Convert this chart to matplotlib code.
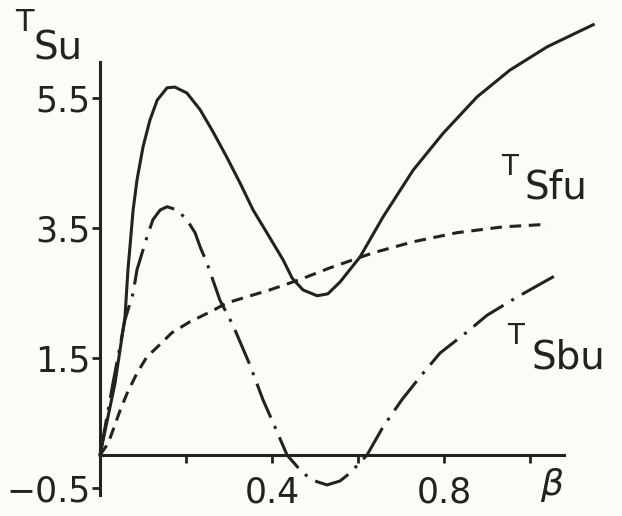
import numpy as np
import matplotlib.pyplot as plt

ink = "#24221e"
paper = "#fcfcf7"

# T_Su (solid)
beta_su = [0, 0.035, 0.058, 0.065, 0.077, 0.086, 0.1, 0.116, 0.133, 0.156, 0.174,
           0.202, 0.233, 0.263, 0.295, 0.326, 0.356, 0.388, 0.426, 0.447, 0.472,
           0.505, 0.53, 0.558, 0.605, 0.658, 0.728, 0.798, 0.877, 0.953, 1.04, 1.147]
t_su = [0, 1.11, 2.12, 2.85, 3.77, 4.23, 4.74, 5.15, 5.46, 5.65, 5.66,
        5.57, 5.31, 4.97, 4.58, 4.18, 3.77, 3.42, 3.0, 2.72, 2.54,
        2.45, 2.48, 2.66, 3.05, 3.66, 4.38, 4.95, 5.51, 5.92, 6.28, 6.62]

# T_Sbu (dash-dot)
beta_sbu = [0, 0.03, 0.058, 0.077, 0.086, 0.109, 0.123, 0.14, 0.156, 0.179, 0.202,
            0.221, 0.233, 0.249, 0.279, 0.309, 0.349, 0.379, 0.407, 0.435, 0.472,
            0.5, 0.528, 0.558, 0.581, 0.621, 0.658, 0.702, 0.744, 0.791, 0.853,
            0.9, 0.97, 1.04, 1.07]
t_sbu = [0, 1.1, 2.08, 2.49, 2.85, 3.35, 3.62, 3.77, 3.82, 3.77, 3.62,
         3.42, 3.2, 2.95, 2.38, 2.0, 1.38, 0.85, 0.43, 0.0, -0.28,
         -0.4, -0.46, -0.4, -0.28, 0.0, 0.43, 0.85, 1.2, 1.57, 1.89,
         2.15, 2.43, 2.69, 2.8]

# T_Sfu (dashed)
beta_sfu = [0, 0.019, 0.047, 0.063, 0.086, 0.109, 0.133, 0.167, 0.209, 0.256, 0.295,
            0.395, 0.465, 0.535, 0.635, 0.728, 0.83, 0.937, 1.042]
t_sfu = [0, 0.18, 0.69, 0.95, 1.26, 1.51, 1.66, 1.88, 2.05, 2.2, 2.34,
         2.54, 2.7, 2.88, 3.11, 3.28, 3.42, 3.51, 3.55]

x_ticks = [0.2, 0.4, 0.6, 0.8, 1.0]
x_labels = ["", "0.4", "", "0.8", ""]
y_ticks = [5.5, 3.5, 1.5, -0.5]
y_labels = ["5.5", "3.5", "1.5", "\u22120.5"]

fig = plt.figure(figsize=(6.22, 5.16), dpi=100, facecolor=paper)
ax = fig.add_axes([0, 0, 1, 1], facecolor=paper)

ax.plot(beta_su, t_su, color=ink, lw=2.2, solid_joinstyle="round")
ax.plot(beta_sbu, t_sbu, color=ink, lw=2.2, linestyle=(0, (12, 3, 1, 3)))
ax.plot(beta_sfu, t_sfu, color=ink, lw=2.2, linestyle=(0, (3.8, 2.5)))

ax.set_xlim(-0.2326, 1.214)
ax.set_ylim(-0.938, 7.0)

for s in ["top", "right"]:
    ax.spines[s].set_visible(False)
ax.spines["left"].set_position(("data", 0))
ax.spines["bottom"].set_position(("data", 0))
ax.spines["left"].set_bounds(-0.62, 6.05)
ax.spines["bottom"].set_bounds(0, 1.08)
for s in ["left", "bottom"]:
    ax.spines[s].set_linewidth(2.2)
    ax.spines[s].set_color(ink)

ax.set_xticks(x_ticks)
ax.set_xticklabels(x_labels)
ax.set_yticks(y_ticks)
ax.set_yticklabels(y_labels)
ax.tick_params(axis="both", colors=ink, width=2.0, length=6, labelsize=25,
               direction="out")
ax.tick_params(axis="x", pad=9)
ax.tick_params(axis="y", pad=1)

ax.text(-0.177, 6.66, "T", fontsize=22, color=ink, ha="center", va="center")
ax.text(-0.098, 6.25, "Su", fontsize=28, color=ink, ha="center", va="center")
ax.text(0.953, 4.43, "T", fontsize=20, color=ink, ha="center", va="center")
ax.text(1.06, 4.12, "Sfu", fontsize=28, color=ink, ha="center", va="center")
ax.text(0.967, 1.83, "T", fontsize=20, color=ink, ha="center", va="center")
ax.text(1.09, 1.5, "Sbu", fontsize=28, color=ink, ha="center", va="center")
ax.text(1.051, -0.46, r"$\beta$", fontsize=26, color=ink, ha="center", va="center")

fig.savefig("out.png", dpi=100, facecolor=paper)
